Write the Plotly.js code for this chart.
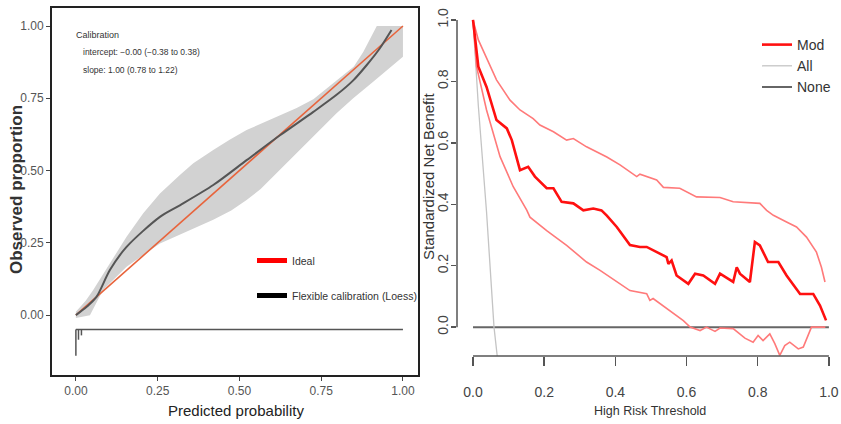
<!DOCTYPE html>
<html><head><meta charset="utf-8">
<script src="https://cdn.plot.ly/plotly-3.0.1.min.js"></script>
<style>html,body{margin:0;padding:0;background:#fff;} #chart{width:841px;height:424px;}</style>
</head><body><div id="chart"></div>
<script>
// ---------- Left panel: calibration ----------
const calTickVals = [0, 0.25, 0.5, 0.75, 1];
const calTickText = ['0.00', '0.25', '0.50', '0.75', '1.00'];
const idealX = [0, 1];
const idealY = [0, 1];
const loessX = [0, 0.033, 0.063, 0.104, 0.155, 0.257, 0.318, 0.42, 0.522, 0.624, 0.726, 0.797, 0.848, 0.89, 0.93, 0.965];
const loessY = [0, 0.029, 0.063, 0.156, 0.236, 0.34, 0.38, 0.45, 0.536, 0.622, 0.703, 0.762, 0.812, 0.866, 0.924, 0.986];
const bandUpperX = [0, 0.03, 0.053, 0.104, 0.155, 0.206, 0.257, 0.318, 0.359, 0.42, 0.47, 0.522, 0.575, 0.624, 0.675, 0.726, 0.797, 0.85, 0.879, 0.92, 1.0];
const bandUpperY = [0.012, 0.05, 0.087, 0.179, 0.271, 0.352, 0.421, 0.485, 0.525, 0.571, 0.607, 0.64, 0.667, 0.69, 0.716, 0.747, 0.81, 0.86, 0.911, 1.0, 1.0];
const bandLowerX = [0, 0.043, 0.06, 0.083, 0.155, 0.206, 0.257, 0.359, 0.42, 0.475, 0.522, 0.565, 0.603, 0.655, 0.705, 0.797, 0.848, 0.909, 1.0];
const bandLowerY = [-0.01, 0.0, 0.035, 0.087, 0.167, 0.208, 0.248, 0.3, 0.33, 0.362, 0.398, 0.436, 0.479, 0.537, 0.594, 0.698, 0.75, 0.807, 0.894];
const rugX = [0, 0.008, 0.017];
const rugDepth = [0.09, 0.035, 0.02];
const rugBaseline = -0.05;
const calLegendNames = ['Ideal', 'Flexible calibration (Loess)'];

// ---------- Right panel: decision curve ----------
const dcaTickVals = [0, 0.2, 0.4, 0.6, 0.8, 1.0];
const dcaTickText = ['0.0', '0.2', '0.4', '0.6', '0.8', '1.0'];
const modX = [0, 0.015, 0.038, 0.066, 0.095, 0.109, 0.132, 0.155, 0.174, 0.188, 0.207, 0.226, 0.249, 0.282, 0.31, 0.338, 0.361, 0.376, 0.404, 0.441, 0.469, 0.488, 0.506, 0.544, 0.549, 0.558, 0.572, 0.605, 0.624, 0.647, 0.68, 0.694, 0.731, 0.741, 0.75, 0.778, 0.792, 0.806, 0.829, 0.858, 0.881, 0.919, 0.956, 0.975, 0.992];
const modY = [1.0, 0.848, 0.782, 0.674, 0.647, 0.609, 0.511, 0.522, 0.49, 0.474, 0.452, 0.452, 0.408, 0.403, 0.38, 0.386, 0.38, 0.363, 0.326, 0.267, 0.261, 0.261, 0.25, 0.228, 0.206, 0.217, 0.168, 0.141, 0.174, 0.168, 0.141, 0.174, 0.147, 0.195, 0.174, 0.147, 0.277, 0.266, 0.212, 0.212, 0.168, 0.108, 0.108, 0.07, 0.022];
const upperX = [0, 0.015, 0.066, 0.104, 0.132, 0.169, 0.188, 0.226, 0.263, 0.282, 0.319, 0.376, 0.413, 0.46, 0.469, 0.516, 0.535, 0.581, 0.628, 0.694, 0.731, 0.806, 0.825, 0.844, 0.881, 0.909, 0.937, 0.965, 0.979, 0.989];
const upperY = [1.0, 0.935, 0.805, 0.739, 0.707, 0.679, 0.658, 0.636, 0.609, 0.614, 0.587, 0.554, 0.528, 0.49, 0.498, 0.479, 0.455, 0.452, 0.424, 0.422, 0.408, 0.403, 0.38, 0.364, 0.342, 0.326, 0.293, 0.244, 0.195, 0.147];
const lowerX = [0, 0.01, 0.038, 0.076, 0.113, 0.151, 0.16, 0.207, 0.263, 0.319, 0.357, 0.404, 0.441, 0.488, 0.497, 0.506, 0.544, 0.591, 0.61, 0.638, 0.656, 0.68, 0.694, 0.731, 0.764, 0.787, 0.801, 0.815, 0.834, 0.848, 0.862, 0.876, 0.89, 0.914, 0.928, 0.942, 0.951, 0.99];
const lowerY = [1.0, 0.848, 0.707, 0.555, 0.457, 0.381, 0.358, 0.314, 0.266, 0.212, 0.185, 0.147, 0.119, 0.109, 0.087, 0.093, 0.06, 0.021, 0.0, -0.011, 0.0, -0.014, -0.003, -0.005, -0.036, -0.049, -0.027, -0.044, -0.022, -0.054, -0.092, -0.06, -0.049, -0.071, -0.065, -0.027, 0.0, 0.0];
const allX = [0, 0.015, 0.038, 0.059, 0.068];
const allY = [1.0, 0.72, 0.375, 0.0, -0.094];
const noneX = [0, 1];
const noneY = [0, 0];
const dcaLegendNames = ['Mod', 'All', 'None'];

// ---------- layout helpers (pixel -> paper) ----------
const W = 841, H = 424;
const px = v => v / W;
const py = v => 1 - v / H;
const sans = '"Liberation Sans", Arial, sans-serif';

// rug segments
const rugSegX = [0, 1, null], rugSegY = [rugBaseline, rugBaseline, null];
rugX.forEach((x, i) => { rugSegX.push(x, x, null); rugSegY.push(rugBaseline, rugBaseline - rugDepth[i], null); });

const bandX = bandUpperX.concat(bandLowerX.slice().reverse());
const bandY = bandUpperY.concat(bandLowerY.slice().reverse());

const traces = [
  {x: bandX, y: bandY, xaxis: 'x', yaxis: 'y', type: 'scatter', mode: 'lines', fill: 'toself',
   fillcolor: '#d2d2d2', line: {width: 0, color: '#d2d2d2'}, showlegend: false, hoverinfo: 'skip'},
  {x: idealX, y: idealY, xaxis: 'x', yaxis: 'y', type: 'scatter', mode: 'lines',
   line: {color: '#e8643c', width: 1.6}, showlegend: false},
  {x: loessX, y: loessY, xaxis: 'x', yaxis: 'y', type: 'scatter', mode: 'lines',
   line: {color: '#555555', width: 2, shape: 'spline', smoothing: 0.8}, showlegend: false},
  {x: rugSegX, y: rugSegY, xaxis: 'x', yaxis: 'y', type: 'scatter', mode: 'lines',
   line: {color: '#555555', width: 1.5}, showlegend: false, hoverinfo: 'skip'},
  // legend entries (left)
  {x: [null], y: [null], xaxis: 'x', yaxis: 'y', type: 'scatter', mode: 'lines', name: calLegendNames[0],
   line: {color: '#ff0000', width: 5}, legend: 'legend', legendgroup: 'a'},
  {x: [null], y: [null], xaxis: 'x', yaxis: 'y', type: 'scatter', mode: 'lines', name: calLegendNames[1],
   line: {color: '#000000', width: 5}, legend: 'legend', legendgroup: 'b'},
  // right panel
  {x: noneX, y: noneY, xaxis: 'x2', yaxis: 'y2', type: 'scatter', mode: 'lines', name: dcaLegendNames[2],
   line: {color: '#666666', width: 2}, legend: 'legend2', legendrank: 3},
  {x: allX, y: allY, xaxis: 'x2', yaxis: 'y2', type: 'scatter', mode: 'lines', name: dcaLegendNames[1],
   line: {color: '#c4c4c4', width: 1.3}, legend: 'legend2', legendrank: 2},
  {x: upperX, y: upperY, xaxis: 'x2', yaxis: 'y2', type: 'scatter', mode: 'lines',
   line: {color: '#ff7a7a', width: 1.6}, showlegend: false},
  {x: lowerX, y: lowerY, xaxis: 'x2', yaxis: 'y2', type: 'scatter', mode: 'lines',
   line: {color: '#ff7a7a', width: 1.6}, showlegend: false},
  {x: modX, y: modY, xaxis: 'x2', yaxis: 'y2', type: 'scatter', mode: 'lines', name: dcaLegendNames[0],
   line: {color: '#ff1010', width: 2.6}, legend: 'legend2', legendrank: 1}
];

const layout = {
  width: W, height: H,
  margin: {l: 0, r: 0, t: 0, b: 0},
  paper_bgcolor: '#ffffff', plot_bgcolor: '#ffffff',
  showlegend: true,
  xaxis: {domain: [px(52), px(418)], range: [-0.073, 1.046], anchor: 'y',
    tickvals: calTickVals, ticktext: calTickText, showgrid: false, zeroline: false,
    showline: true, mirror: true, linecolor: '#222', linewidth: 2,
    ticks: 'outside', ticklen: 4, tickcolor: '#444', tickwidth: 1,
    tickfont: {family: sans, size: 12, color: '#555'}},
  yaxis: {domain: [py(375), py(7.5)], range: [-0.207, 1.064], anchor: 'x',
    tickvals: calTickVals, ticktext: calTickText, showgrid: false, zeroline: false,
    showline: true, mirror: true, linecolor: '#222', linewidth: 2,
    ticks: 'outside', ticklen: 4, tickcolor: '#444', tickwidth: 1,
    tickfont: {family: sans, size: 12, color: '#555'}},
  xaxis2: {domain: [px(457), 1], range: [-0.045, 1.034], anchor: 'y2',
    tickvals: dcaTickVals, ticktext: dcaTickText, showgrid: false, zeroline: false, showline: false,
    ticks: 'outside', ticklen: 9, tickcolor: '#555', tickwidth: 1.5, ticklabelstandoff: 14,
    tickfont: {family: sans, size: 14, color: '#444'}},
  yaxis2: {domain: [py(356), py(4.6)], range: [-0.094, 1.05], anchor: 'x2',
    tickvals: dcaTickVals, ticktext: dcaTickText, showgrid: false, zeroline: false, showline: false,
    ticks: 'outside', ticklen: 5, tickcolor: '#555', tickwidth: 1.5, tickangle: -90, ticklabelstandoff: -3,
    tickfont: {family: sans, size: 14, color: '#444'}},
  legend: {x: px(252), y: py(246), xanchor: 'left', yanchor: 'top', bgcolor: 'rgba(0,0,0,0)',
    font: {family: sans, size: 10.5, color: '#333'}, tracegroupgap: 16, itemwidth: 30},
  legend2: {x: px(757), y: py(29), xanchor: 'left', yanchor: 'top', bgcolor: 'rgba(0,0,0,0)',
    font: {family: sans, size: 14, color: '#333'}, itemwidth: 30, traceorder: 'normal'},
  shapes: [
    {type: 'line', xref: 'x2', yref: 'y2 domain', x0: 0, x1: 1, y0: 0, y1: 0, line: {color: '#555', width: 1.5}},
    {type: 'line', xref: 'x2 domain', yref: 'y2', x0: 0, x1: 0, y0: 0, y1: 1, line: {color: '#555', width: 1.5}}
  ],
  annotations: [
    {text: 'Calibration', xref: 'paper', yref: 'paper', x: px(74), y: py(35), xanchor: 'left', yanchor: 'middle',
     showarrow: false, font: {family: sans, size: 9, color: '#333'}},
    {text: 'intercept: \u22120.00 (\u22120.38 to 0.38)', xref: 'paper', yref: 'paper', x: px(81), y: py(52), xanchor: 'left', yanchor: 'middle',
     showarrow: false, font: {family: sans, size: 8.5, color: '#333'}},
    {text: 'slope: 1.00 (0.78 to 1.22)', xref: 'paper', yref: 'paper', x: px(81), y: py(70), xanchor: 'left', yanchor: 'middle',
     showarrow: false, font: {family: sans, size: 8.5, color: '#333'}},
    {text: 'Predicted probability', xref: 'paper', yref: 'paper', x: px(236), y: py(410), xanchor: 'center', yanchor: 'middle',
     showarrow: false, font: {family: sans, size: 15, color: '#222'}},
    {text: '<b>Observed proportion</b>', xref: 'paper', yref: 'paper', x: px(16), y: py(190), xanchor: 'center', yanchor: 'middle',
     textangle: -90, showarrow: false, font: {family: sans, size: 17, color: '#333'}},
    {text: 'High Risk Threshold', xref: 'paper', yref: 'paper', x: px(650), y: py(411), xanchor: 'center', yanchor: 'middle',
     showarrow: false, font: {family: sans, size: 12.5, color: '#333'}},
    {text: 'Standardized Net Benefit', xref: 'paper', yref: 'paper', x: px(428), y: py(176), xanchor: 'center', yanchor: 'middle',
     textangle: -90, showarrow: false, font: {family: sans, size: 15, color: '#333'}}
  ]
};

Plotly.newPlot('chart', traces, layout, {displayModeBar: false, staticPlot: true});
</script>
</body></html>
